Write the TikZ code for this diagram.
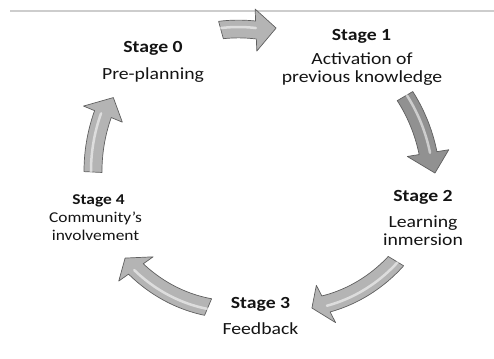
\documentclass[tikz,border=0pt]{standalone}
\usepackage{fontspec}
\setmainfont{Carlito}[FakeStretch=1.16]
\usepackage{xcolor}
\usetikzlibrary{positioning}

\definecolor{arrowfill}{RGB}{180,180,180}
\definecolor{arrowdark}{RGB}{145,145,145}
\definecolor{arrowedge}{RGB}{95,95,95}
\definecolor{labeltext}{RGB}{20,20,20}
\definecolor{rulegray}{RGB}{205,205,205}

% centre of the cycle and arrow sizes (bp)
\def\ccx{262}
\def\ccy{178}
\def\bodyw{9}
\def\headw{21}

% curved block arrow: [fill]{tail angle}{tail radius}{head angle}{head radius}{tip angle}{tip radius}
\newcommand{\cyclearrow}[7][arrowfill]{%
  \filldraw[arrowbody, fill=#1]
    plot[domain=#2:#4, samples=30, variable=\t]
      ({\ccx+(#3+((#5)-(#3))*(\t-(#2))/((#4)-(#2))+\bodyw)*cos(\t)},
       {\ccy+(#3+((#5)-(#3))*(\t-(#2))/((#4)-(#2))+\bodyw)*sin(\t)})
    -- ({\ccx+(#5+\headw)*cos(#4)}, {\ccy+(#5+\headw)*sin(#4)})
    -- ({\ccx+#7*cos(#6)}, {\ccy+#7*sin(#6)})
    -- ({\ccx+(#5-\headw)*cos(#4)}, {\ccy+(#5-\headw)*sin(#4)})
    -- plot[domain=#4:#2, samples=30, variable=\t]
      ({\ccx+(#3+((#5)-(#3))*(\t-(#2))/((#4)-(#2))-\bodyw)*cos(\t)},
       {\ccy+(#3+((#5)-(#3))*(\t-(#2))/((#4)-(#2))-\bodyw)*sin(\t)})
    -- cycle;
  % shine along the body
  \draw[arrowshine]
    plot[domain=#2:#4, samples=30, variable=\t]
      ({\ccx+(#3+((#5)-(#3))*(\t-(#2))/((#4)-(#2))+2)*cos(\t)},
       {\ccy+(#3+((#5)-(#3))*(\t-(#2))/((#4)-(#2))+2)*sin(\t)});
}

\begin{document}
\begin{tikzpicture}[x=1bp, y=1bp,
    arrowbody/.style={draw=arrowedge, line width=0.7bp, line join=round},
    arrowshine/.style={white, opacity=0.55, line width=2.5bp, line cap=round},
    stagetitle/.style={anchor=base, inner sep=0pt, text=labeltext, font=\fontsize{17bp}{18bp}\selectfont\bfseries},
    stagetext/.style={anchor=base, inner sep=0pt, align=center, text=labeltext, font=\fontsize{17bp}{18bp}\selectfont},
    smalltitle/.style={stagetitle, font=\fontsize{15bp}{18bp}\selectfont\bfseries},
    smalltext/.style={stagetext, font=\fontsize{15bp}{18bp}\selectfont}
]
    \useasboundingbox (0,0) rectangle (494,358);

    % rule along the top
    \draw[rulegray, line width=2bp] (10,347) -- (494,347);

    % Stage labels (two-line texts sit on their last baseline)
    \node[stagetitle] (st0) at (153,306) {Stage 0};
    \node[stagetext] (pre0) at (153,279) {Pre-planning};

    \node[stagetitle] (st1) at (361.5,318) {Stage 1};
    \node[stagetext] (act1) at (362,276) {Activation of\\previous knowledge};

    \node[stagetitle] (st2) at (423,157) {Stage 2};
    \node[stagetext] (lrn2) at (423,113) {Learning\\inmersion};

    \node[stagetitle] (st3) at (260.5,50) {Stage 3};
    \node[stagetext] (fb3) at (260.5,24) {Feedback};

    \node[smalltitle] (st4) at (98.5,154) {Stage 4};
    \node[smalltext] (com4) at (95.5,118) {Community’s\\involvement};

    % Arrows round the cycle
    \cyclearrow{105.3}{155.5}{92.3}{150.1}{84.7}{152.6}
    \cyclearrow[arrowdark]{30.4}{165.8}{9.2}{168.2}{2.3}{173.1}
    \cyclearrow{-31.2}{156.6}{-62.7}{139.5}{-68.7}{137.4}
    \cyclearrow{-113.0}{138}{-144.8}{154.3}{-150.3}{157.6}
    \cyclearrow{177.3}{169.2}{157.5}{172.2}{151}{170}
\end{tikzpicture}
\end{document}
